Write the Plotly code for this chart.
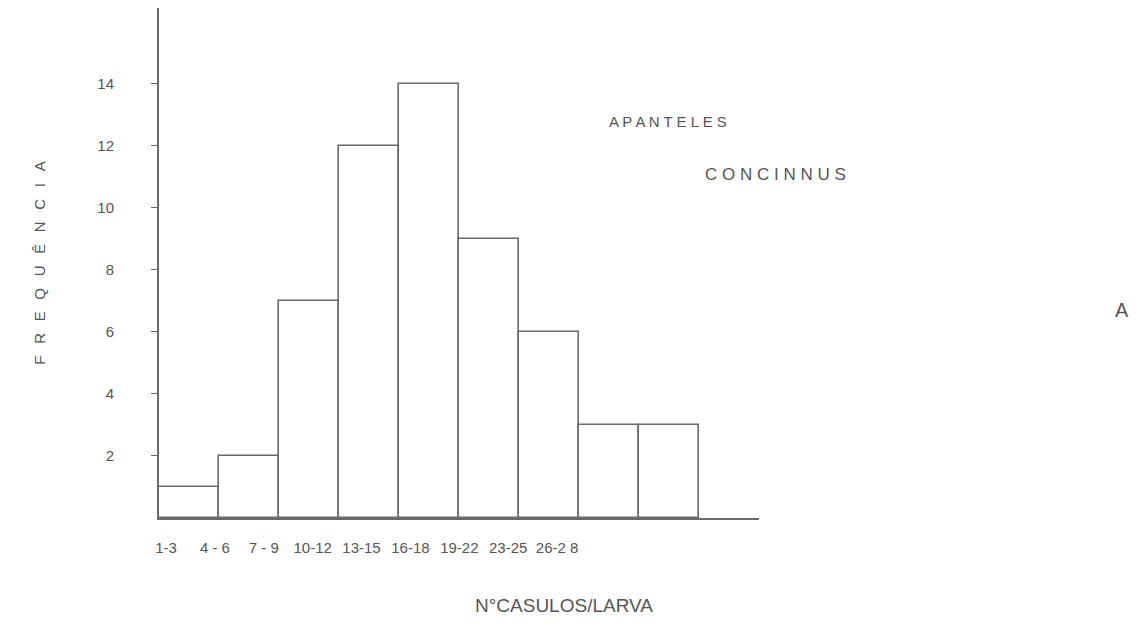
import plotly.graph_objects as go

categories = ["1-3", "4 - 6", "7 - 9", "10-12", "13-15", "16-18", "19-22", "23-25", "26-2 8"]
frequencies = [1, 2, 7, 12, 14, 9, 6, 3, 3]
y_ticks = [2, 4, 6, 8, 10, 12, 14]

LINE = "#6a6a6a"
TEXT = "#555555"
FONT = "Liberation Sans"

idx = list(range(len(categories)))

# plot-area geometry on the page (page has an 8px body margin)
PL, PW, PB, PH = 159, 600, 518, 510


def px(xp):
    return (xp - PL) / PW


def py(yp):
    return (PB - yp) / PH


fig = go.Figure()
fig.add_trace(go.Bar(
    x=idx, y=frequencies, width=1.0,
    marker=dict(color="white", line=dict(color=LINE, width=1.6)),
    hoverinfo="skip", showlegend=False,
))
# invisible helper trace carrying the (hand-lettered, compressed) category labels
fig.add_trace(go.Scatter(
    x=idx, y=[0] * len(idx), xaxis="x2", mode="markers",
    marker=dict(opacity=0), hoverinfo="skip", showlegend=False,
))

fig.update_layout(
    width=1138, height=628,
    margin=dict(l=PL - 8, r=1138 - (PL - 8) - PW, t=0, b=628 - PH),
    paper_bgcolor="white", plot_bgcolor="white",
    font=dict(family=FONT, color=TEXT, size=15),
    xaxis=dict(
        range=[-0.5, 9.5], showgrid=False, zeroline=False,
        showline=True, linecolor=LINE, linewidth=2,
        showticklabels=False, ticks="",
    ),
    xaxis2=dict(
        overlaying="x", side="bottom", anchor="y",
        range=[-0.143, 12.13], showgrid=False, zeroline=False,
        showline=False, ticks="",
        tickvals=idx, ticktext=categories,
        tickfont=dict(size=15, color=TEXT),
        ticklabelstandoff=19,
    ),
    yaxis=dict(
        range=[0, 16.45], showgrid=False, zeroline=False,
        showline=True, linecolor=LINE, linewidth=2,
        tickvals=y_ticks, ticktext=[str(v) for v in y_ticks],
        ticks="outside", ticklen=6, tickcolor=LINE, tickwidth=1,
        ticklabelstandoff=34,
        tickfont=dict(size=15, color=TEXT),
        title=dict(text=" \u2002".join("FREQUÊNCIA"), standoff=48,
                   font=dict(size=15, color=TEXT)),
    ),
    bargap=0,
)

fig.add_annotation(text="N°CASULOS/LARVA", xref="paper", yref="paper",
                   x=px(564), y=py(605), xanchor="center", yanchor="middle",
                   showarrow=False, font=dict(size=19, color=TEXT))
fig.add_annotation(text="A P A N T E L E S", xref="paper", yref="paper",
                   x=px(668), y=py(122), xanchor="center", yanchor="middle",
                   showarrow=False, font=dict(size=15, color=TEXT))
fig.add_annotation(text="C O N C I N N U S", xref="paper", yref="paper",
                   x=px(775), y=py(175), xanchor="center", yanchor="middle",
                   showarrow=False, font=dict(size=17, color=TEXT))
fig.add_annotation(text="A", xref="paper", yref="paper",
                   x=px(1122), y=py(310), xanchor="center", yanchor="middle",
                   showarrow=False, font=dict(size=20, color=TEXT))

fig.write_html("out.html")
